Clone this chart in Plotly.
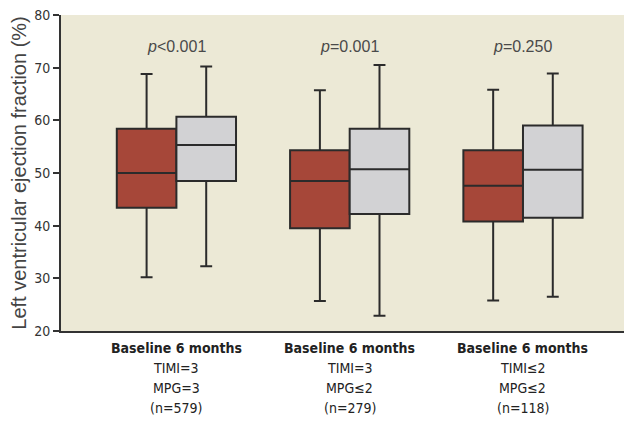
import plotly.graph_objects as go

group_lines = [
    ["TIMI=3", "MPG=3", "(n=579)"],
    ["TIMI=3", "MPG≤2", "(n=279)"],
    ["TIMI≤2", "MPG≤2", "(n=118)"],
]
header = "Baseline 6 months"
p_values = ["<i>p</i>&lt;0.001", "<i>p</i>=0.001", "<i>p</i>=0.250"]

base_q1 = [43.4, 39.5, 40.8]
base_med = [50.0, 48.5, 47.6]
base_q3 = [58.4, 54.3, 54.3]
base_lo = [30.2, 25.7, 25.8]
base_hi = [68.8, 65.7, 65.8]

m6_q1 = [48.5, 42.2, 41.5]
m6_med = [55.3, 50.7, 50.6]
m6_q3 = [60.7, 58.4, 59.0]
m6_lo = [32.3, 22.9, 26.5]
m6_hi = [70.2, 70.5, 68.9]

yticks = [20, 30, 40, 50, 60, 70, 80]

W = 0.344
idx = list(range(len(group_lines)))
narrow = "DejaVu Sans Condensed, sans-serif"
sans = "Liberation Sans, Arial, sans-serif"

fig = go.Figure()
fig.add_trace(go.Box(
    x=[i - W / 2 for i in idx], q1=base_q1, median=base_med, q3=base_q3,
    lowerfence=base_lo, upperfence=base_hi, width=W, whiskerwidth=0.2,
    fillcolor="#A64739", line=dict(color="#2b2b2b", width=2),
    boxpoints=False, name="Baseline", showlegend=False))
fig.add_trace(go.Box(
    x=[i + W / 2 for i in idx], q1=m6_q1, median=m6_med, q3=m6_q3,
    lowerfence=m6_lo, upperfence=m6_hi, width=W, whiskerwidth=0.2,
    fillcolor="#D2D2D4", line=dict(color="#2b2b2b", width=2),
    boxpoints=False, name="6 months", showlegend=False))

for i, p in zip(idx, p_values):
    fig.add_annotation(x=i, y=74.0, text=p, showarrow=False, xanchor="center", yanchor="middle",
                       font=dict(family=sans, size=16, color="#4a4a4a"))

for i, lines in zip(idx, group_lines):
    fig.add_annotation(x=i, y=0, yref="paper", yshift=-17, text="<b>" + header + "</b>",
                       showarrow=False, xanchor="center", yanchor="middle",
                       font=dict(family=narrow, size=14, color="#222222"))
    for k, t in enumerate(lines):
        fig.add_annotation(x=i, y=0, yref="paper", yshift=-37 - 20 * k, text=t,
                           showarrow=False, xanchor="center", yanchor="middle",
                           font=dict(family=narrow, size=14, color="#222222"))

fig.update_layout(
    width=624, height=421,
    margin=dict(l=61, r=0, t=15, b=90),
    paper_bgcolor="white", plot_bgcolor="#ECE9D6",
    xaxis=dict(range=[-0.666, 2.583], showticklabels=False,
               showline=True, linecolor="#333333", linewidth=2, ticks="", showgrid=False,
               zeroline=False),
    yaxis=dict(range=[20, 80], tickvals=yticks, ticks="outside", ticklen=6, tickwidth=1.5,
               tickcolor="#333333", showline=True, linecolor="#333333", linewidth=2,
               showgrid=False, zeroline=False,
               tickfont=dict(family=narrow, size=14, color="#333333"),
               title=dict(text="Left ventricular ejection fraction (%)", standoff=2,
                          font=dict(family=sans, size=20, color="#444444"))),
)

fig.write_html("out.html", config={"displayModeBar": False},
               post_script="document.body.style.margin='0';")
